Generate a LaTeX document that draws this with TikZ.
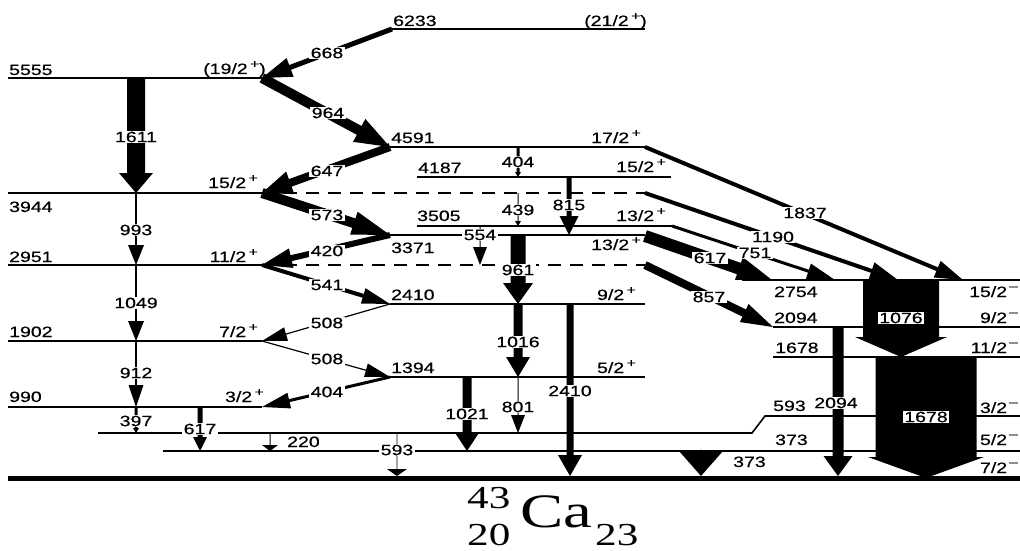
\documentclass[tikz,border=0pt]{standalone}
\usepackage{fontspec}
\setmainfont[FakeStretch=1.3,FakeBold=0.6]{Liberation Sans}
\newfontfamily\serf[FakeStretch=1.35]{Liberation Serif}
\usetikzlibrary{calc}
% #1 from, #2 to, #3 shaft half width, #4 head half width, #5 head length (pt)
\newcommand\gar[5]{%
 \coordinate (gP) at ($(#2)!#5pt!(#1)$);
 \fill ($(#1)!#3pt!90:(#2)$) -- ($(gP)!#3pt!-90:(#1)$) -- ($(gP)!#4pt!-90:(#1)$) -- (#2) -- ($(gP)!#4pt!90:(#1)$) -- ($(gP)!#3pt!90:(#1)$) -- ($(#1)!#3pt!-90:(#2)$) -- cycle;}
\newcommand\spinp{\hspace{2.5pt}\raisebox{6pt}{\fontsize{12}{12}\selectfont +}}
\newcommand\spinm{\hspace{2pt}\raisebox{7pt}{\fontsize{12}{12}\selectfont –}}
\begin{document}
\begin{tikzpicture}[x=1pt,y=-1pt,
 lev/.style={line width=1.6pt},
 dsh/.style={line width=1.6pt, dash pattern=on 13pt off 9pt},
 lab/.style={inner sep=0pt, anchor=base west, font=\fontsize{15}{16}\selectfont},
 labr/.style={lab, anchor=base east},
 gl/.style={fill=white, inner xsep=1.5pt, inner ysep=1pt, font=\fontsize{15}{16}\selectfont},
 ca/.style={inner sep=0pt, anchor=base west}]
\useasboundingbox (0,0) rectangle (1020,551);
% ---------- levels ----------
\coordinate (L6233w) at (392,29);  \coordinate (L6233e) at (645,29);
\coordinate (L5555w) at (8,78);    \coordinate (L5555e) at (262,78);
\coordinate (L4591w) at (390,147); \coordinate (L4591e) at (645,147);
\coordinate (L4187w) at (417,177); \coordinate (L4187e) at (671,177);
\coordinate (L3944w) at (8,193);   \coordinate (L3944e) at (262,193); \coordinate (L3944d) at (645,193);
\coordinate (L3505w) at (417,226); \coordinate (L3505e) at (672,226);
\coordinate (L3371w) at (390,235); \coordinate (L3371e) at (645,235);
\coordinate (L2951w) at (8,265);   \coordinate (L2951e) at (262,265); \coordinate (L2951d) at (645,265);
\coordinate (L2410w) at (390,304); \coordinate (L2410e) at (645,304);
\coordinate (L1902w) at (8,341);   \coordinate (L1902e) at (262,341);
\coordinate (L1394w) at (390,377); \coordinate (L1394e) at (645,377);
\coordinate (L990w) at (8,407);    \coordinate (L990e) at (262,407);
\coordinate (L2754w) at (742,280); \coordinate (L2754e) at (1020,280);
\coordinate (L2094w) at (773,327); \coordinate (L2094e) at (1020,327);
\coordinate (L1678w) at (773,357); \coordinate (L1678e) at (1020,357);
\coordinate (L593w) at (98,433);   \coordinate (L593k1) at (752,433); \coordinate (L593k2) at (765,416); \coordinate (L593e) at (1020,416);
\coordinate (L373w) at (163,451);  \coordinate (L373e) at (1020,451);
\coordinate (L0w) at (8,478.5);    \coordinate (L0e) at (1020,478.5);
\draw[lev] (L6233w) -- (L6233e);
\draw[lev] (L5555w) -- (L5555e);
\draw[lev] (L4591w) -- (L4591e);
\draw[lev] (L4187w) -- (L4187e);
\draw[lev] (L3944w) -- (L3944e);
\draw[dsh] (L3944e) -- (L3944d);
\draw[lev] (L3505w) -- (L3505e);
\draw[lev] (L3371w) -- (L3371e);
\draw[lev] (L2951w) -- (L2951e);
\draw[dsh] (L2951e) -- (L2951d);
\draw[lev] (L2410w) -- (L2410e);
\draw[lev] (L1902w) -- (L1902e);
\draw[lev] (L1394w) -- (L1394e);
\draw[lev] (L990w) -- (L990e);
\draw[lev] (L2754w) -- (L2754e);
\draw[lev] (L2094w) -- (L2094e);
\draw[lev] (L1678w) -- (L1678e);
\draw[lev] (L593w) -- (L593k1) -- (L593k2) -- (L593e);
\draw[lev] (L373w) -- (L373e);
\draw[line width=5pt] (L0w) -- (L0e);
% ---------- arrow end points ----------
\coordinate (e1837) at (963,280);
\coordinate (e1190) at (898,280);
\coordinate (e751) at (835,280);
\coordinate (s617r) at (645,236); \coordinate (e617r) at (772,280);
\coordinate (e857) at (773,327);
\coordinate (a1611) at (136,78);  \coordinate (b1611) at (136,193);
\coordinate (a993) at (136,193);  \coordinate (b993) at (136,265);
\coordinate (a1049) at (136,265); \coordinate (b1049) at (136,341);
\coordinate (a912) at (136,341);  \coordinate (b912) at (136,407);
\coordinate (a397) at (136,407);  \coordinate (b397) at (136,433);
\coordinate (a617l) at (200,407); \coordinate (b617l) at (200,451);
\coordinate (a220) at (270,433);  \coordinate (b220) at (270,451);
\coordinate (a593l) at (397,433); \coordinate (b593l) at (397,476);
\coordinate (a404u) at (518,147); \coordinate (b404u) at (518,177);
\coordinate (a439) at (518,193);  \coordinate (b439) at (518,226);
\coordinate (a815) at (569,177);  \coordinate (b815) at (569,235);
\coordinate (a554) at (480,226);  \coordinate (b554) at (480,265);
\coordinate (a961) at (518,235);  \coordinate (b961) at (518,304);
\coordinate (a1016) at (518,304); \coordinate (b1016) at (518,377);
\coordinate (a2410) at (570,304); \coordinate (b2410) at (570,476);
\coordinate (a801) at (518,377);  \coordinate (b801) at (518,433);
\coordinate (a1021) at (467,377); \coordinate (b1021) at (467,451);
\coordinate (a373) at (701,449);  \coordinate (b373) at (701,476);
\coordinate (a2094) at (838,327); \coordinate (b2094) at (838,476);
\coordinate (a1076) at (901,280); \coordinate (b1076) at (901,357);
\coordinate (a1678) at (926,357); \coordinate (b1678) at (926,478);
% ---------- transitions ----------
\gar{L6233w}{L5555e}{2.5}{10}{30}
\gar{L5555e}{L4591w}{5}{13}{35}
\gar{L4591w}{L3944e}{4}{12}{30}
\gar{L3944e}{L3371w}{5}{12}{38}
\gar{L3371w}{L2951e}{3}{10}{30}
\gar{L2951e}{L2410w}{2}{8}{28}
\gar{L2410w}{L1902e}{0.6}{7}{25}
\gar{L1902e}{L1394w}{0.6}{7}{25}
\gar{L1394w}{L990e}{1.5}{8}{28}
\gar{L4591e}{e1837}{2}{9}{28}
\gar{L3944d}{e1190}{2}{9}{28}
\gar{L3505e}{e751}{1.5}{8}{28}
\gar{s617r}{e617r}{6}{12}{35}
\gar{L2951d}{e857}{4}{10}{32}
\gar{a1611}{b1611}{9}{17}{20}
\gar{a993}{b993}{0.8}{8}{20}
\gar{a1049}{b1049}{0.8}{8}{20}
\gar{a912}{b912}{0.8}{7.5}{22}
\gar{a397}{b397}{1.5}{3}{5}
\gar{a617l}{b617l}{2.5}{7}{14}
\gar{a220}{b220}{0.5}{8}{6}
\gar{a593l}{b593l}{0.3}{10}{7}
\gar{a404u}{b404u}{1.5}{3}{5}
\gar{a439}{b439}{0.5}{3}{5}
\gar{a815}{b815}{2.5}{9.5}{19}
\gar{a554}{b554}{0.5}{7}{18}
\gar{a961}{b961}{7.5}{15}{21}
\gar{a1016}{b1016}{4.5}{12}{20}
\gar{a2410}{b2410}{3.5}{12}{21}
\gar{a801}{b801}{0.5}{7}{18}
\gar{a1021}{b1021}{4.5}{12.5}{19}
\gar{a373}{b373}{0.2}{22}{25}
\gar{a2094}{b2094}{5.5}{14.5}{20}
\gar{a1076}{b1076}{38}{46}{20}
\gar{a1678}{b1678}{50.5}{58}{21}
% ---------- level labels ----------
\node[lab] (n6233) at (393,26) {6233};
\node[labr] (j6233) at (647,26) {(21/2\spinp)};
\node[lab] (n5555) at (9,75) {5555};
\node[labr] (j5555) at (266,74) {(19/2\spinp)};
\node[lab] (n4591) at (391,143) {4591};
\node[labr] (j4591) at (641,143) {17/2\spinp};
\node[lab] (n4187) at (418,173) {4187};
\node[labr] (j4187) at (666,172) {15/2\spinp};
\node[lab] (n3944) at (9,212) {3944};
\node[labr] (j3944) at (258,188) {15/2\spinp};
\node[lab] (n3505) at (417,221) {3505};
\node[labr] (j3505) at (666,221) {13/2\spinp};
\node[lab] (n3371) at (391,253) {3371};
\node[labr] (j3371) at (641,250) {13/2\spinp};
\node[lab] (n2951) at (9,262) {2951};
\node[labr] (j2951) at (258,262) {11/2\spinp};
\node[lab] (n2410) at (391,300) {2410};
\node[labr] (j2410) at (636,300) {9/2\spinp};
\node[lab] (n1902) at (9,337) {1902};
\node[labr] (j1902) at (258,337) {7/2\spinp};
\node[lab] (n1394) at (391,373) {1394};
\node[labr] (j1394) at (636,373) {5/2\spinp};
\node[lab] (n990) at (9,402) {990};
\node[labr] (j990) at (264,402) {3/2\spinp};
\node[lab] (n2754) at (774,297) {2754};
\node[labr] (j2754) at (1018,297) {15/2\spinm};
\node[lab] (n2094) at (774,323) {2094};
\node[labr] (j2094) at (1018,323) {9/2\spinm};
\node[lab] (n1678) at (775,353) {1678};
\node[labr] (j1678) at (1018,353) {11/2\spinm};
\node[lab] (n593) at (773,411) {593};
\node[labr] (j593) at (1018,413) {3/2\spinm};
\node[lab] (n373) at (775,445) {373};
\node[labr] (j373) at (1018,445) {5/2\spinm};
\node[labr] (j0) at (1018,473) {7/2\spinm};
% ---------- gamma labels ----------
\node[gl] (g668) at (327,53) {668};
\node[gl] (g964) at (328,113) {964};
\node[gl] (g647) at (327,171) {647};
\node[gl] (g573) at (327,215) {573};
\node[gl] (g420) at (327,251) {420};
\node[gl] (g541) at (327,285) {541};
\node[gl] (g508a) at (327,323) {508};
\node[gl] (g508b) at (327,359) {508};
\node[gl] (g404) at (327,392) {404};
\node[gl] (g1837) at (805,213) {1837};
\node[gl] (g1190) at (773,237) {1190};
\node[gl] (g617r) at (710,258) {617};
\node[gl] (g751) at (755,253) {751};
\node[gl] (g857) at (709,297) {857};
\node[gl] (g1611) at (136,137) {1611};
\node[gl] (g993) at (136,230) {993};
\node[gl] (g1049) at (136,303) {1049};
\node[gl] (g912) at (136,373) {912};
\node[gl] (g397) at (136,421) {397};
\node[gl] (g617l) at (200,429) {617};
\node[lab] (g220) at (287,447) {220};
\node[gl] (g593l) at (397,450) {593};
\node[gl] (g404u) at (518,162) {404};
\node[gl] (g439) at (518,210) {439};
\node[gl] (g815) at (569,205) {815};
\node[gl] (g554) at (480,235) {554};
\node[gl] (g961) at (518,270) {961};
\node[gl] (g1016) at (518,342) {1016};
\node[gl] (g2410) at (570,391) {2410};
\node[gl] (g801) at (518,407) {801};
\node[gl] (g1021) at (467,414) {1021};
\node[lab] (g373) at (733,467) {373};
\node[gl] (g2094) at (836,403) {2094};
\node[gl] (g1076) at (901,318) {1076};
\node[gl] (g1678) at (926,417) {1678};
% ---------- nucleus ----------
\node[ca, font=\serf\fontsize{32}{32}\selectfont] (m43) at (467,508) {43};
\node[ca, font=\serf\fontsize{32}{32}\selectfont] (m20) at (467,545) {20};
\node[ca, font=\serf\fontsize{48}{48}\selectfont] (mCa) at (520,527) {Ca};
\node[ca, font=\serf\fontsize{32}{32}\selectfont] (m23) at (595,545) {23};
\end{tikzpicture}
\end{document}
